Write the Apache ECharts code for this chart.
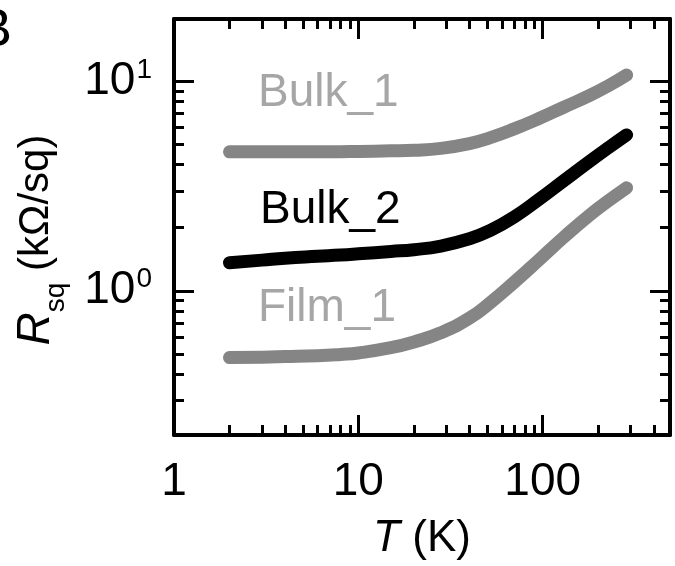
<!DOCTYPE html>
<html>
<head>
<meta charset="utf-8">
<script src="https://cdn.jsdelivr.net/npm/echarts@6/dist/echarts.min.js"></script>
<style>
  html, body { margin: 0; padding: 0; background: #ffffff; }
  #chart { width: 675px; height: 566px; }
</style>
</head>
<body>
<div id="chart"></div>
<script>
// Sheet resistance versus temperature for three samples
const temperatureK = [2, 3, 4, 6, 8, 10, 15, 20, 28, 40, 52, 70, 96, 130, 180, 230, 285];
const bulk1 = [4.6, 4.6, 4.6, 4.6, 4.61, 4.62, 4.65, 4.68, 4.78, 5.04, 5.38, 5.92, 6.65, 7.51, 8.55, 9.57, 10.7];
const bulk2 = [1.36, 1.40, 1.43, 1.46, 1.48, 1.50, 1.54, 1.57, 1.635, 1.77, 1.94, 2.25, 2.74, 3.35, 4.15, 4.85, 5.54];
const film1 = [0.48, 0.482, 0.485, 0.49, 0.497, 0.505, 0.535, 0.57, 0.63, 0.74, 0.878, 1.098, 1.41, 1.80, 2.30, 2.71, 3.10];

const seriesNames = ['Bulk_1', 'Bulk_2', 'Film_1'];

// Tick positions (log axes)
const xMajorTicks = [1, 10, 100];
const xMinorTicks = [2, 3, 4, 5, 6, 7, 8, 9, 20, 30, 40, 50, 60, 70, 80, 90, 200, 300, 400];
const yMajorTicks = [1, 10];
const yMinorTicks = [0.3, 0.4, 0.5, 0.6, 0.7, 0.8, 0.9, 2, 3, 4, 5, 6, 7, 8, 9];
const xTickLabels = ['1', '10', '100'];
const yTickExponents = ['0', '1'];

const FONT = '"Liberation Sans", Arial, sans-serif';
const GRAY_LINE = '#858585';
const GRAY_TEXT = '#a6a6a6';

const X_MIN = 1, X_MAX = 490;
const Y_MIN = 0.205, Y_MAX = 19.8;

function zip(xs, ys) { return xs.map((x, i) => [x, ys[i]]); }

function xAxisDef(position, ticks, len, main) {
  return {
    type: 'log', logBase: 10, position: position, min: X_MIN, max: X_MAX,
    axisLine: { show: main, lineStyle: { color: '#000', width: 4 } },
    axisTick: { show: true, inside: true, length: len, customValues: ticks,
                lineStyle: { color: '#000', width: 3 } },
    axisLabel: (main && position === 'bottom') ? {
      show: true, customValues: xMajorTicks, margin: 24,
      formatter: v => xTickLabels[xMajorTicks.indexOf(v)] ?? String(v),
      color: '#000', fontSize: 46, fontFamily: FONT
    } : { show: false },
    splitLine: { show: false },
    minorTick: { show: false }
  };
}

function yAxisDef(position, ticks, len, main) {
  return {
    type: 'log', logBase: 10, position: position, min: Y_MIN, max: Y_MAX,
    axisLine: { show: main, lineStyle: { color: '#000', width: 4 } },
    axisTick: { show: true, inside: true, length: len, customValues: ticks,
                lineStyle: { color: '#000', width: 3 } },
    axisLabel: (main && position === 'left') ? {
      show: true, customValues: yMajorTicks, margin: 22,
      formatter: v => '{b|10}{s|' + yTickExponents[yMajorTicks.indexOf(v)] + '}',
      rich: {
        b: { fontSize: 46, fontFamily: FONT, color: '#000' },
        s: { fontSize: 28, fontFamily: FONT, color: '#000', verticalAlign: 'top', padding: [0, 0, 22, 1] }
      }
    } : { show: false },
    splitLine: { show: false },
    minorTick: { show: false }
  };
}

const xAxes = [
  xAxisDef('bottom', xMajorTicks, 20, true),
  xAxisDef('bottom', xMinorTicks, 10, false),
  xAxisDef('top', xMajorTicks, 20, true),
  xAxisDef('top', xMinorTicks, 10, false)
];
xAxes[0].name = '{i|T} (K)';
xAxes[0].nameLocation = 'middle';
xAxes[0].nameGap = 82;
xAxes[0].nameTextStyle = {
  color: '#000', fontSize: 44, fontFamily: FONT,
  rich: { i: { fontStyle: 'italic', fontSize: 44, fontFamily: FONT, color: '#000' } }
};

const yAxes = [
  yAxisDef('left', yMajorTicks, 20, true),
  yAxisDef('left', yMinorTicks, 10, false),
  yAxisDef('right', yMajorTicks, 20, true),
  yAxisDef('right', yMinorTicks, 10, false)
];
yAxes[0].name = '{i|R}{sub|sq} (kΩ/sq)';
yAxes[0].nameLocation = 'middle';
yAxes[0].nameRotate = 90;
yAxes[0].nameGap = 104;
yAxes[0].nameTextStyle = {
  color: '#000', fontSize: 42, fontFamily: FONT, padding: [0, 26, 0, 0],
  rich: {
    i: { fontStyle: 'italic', fontSize: 46, fontFamily: FONT, color: '#000' },
    sub: { fontSize: 28, fontFamily: FONT, color: '#000', verticalAlign: 'bottom', padding: [40, 0, 0, 0] }
  }
};

function lineSeries(name, values, color) {
  return {
    name: name, type: 'line', xAxisIndex: 0, yAxisIndex: 0,
    data: zip(temperatureK, values),
    showSymbol: false, symbol: 'none', smooth: 0.5,
    lineStyle: { color: color, width: 13, cap: 'round', join: 'round' },
    z: 3
  };
}

const chart = echarts.init(document.getElementById('chart'), null, { renderer: 'canvas' });
chart.setOption({
  backgroundColor: '#ffffff',
  animation: false,
  grid: { left: 174, right: 5, top: 19, bottom: 127, containLabel: false },
  xAxis: xAxes,
  yAxis: yAxes,
  series: [
    lineSeries(seriesNames[0], bulk1, GRAY_LINE),
    lineSeries(seriesNames[1], bulk2, '#000000'),
    lineSeries(seriesNames[2], film1, GRAY_LINE)
  ],
  graphic: [
    { type: 'text', left: -24, top: 4, style: { text: 'B', fontSize: 54, fontFamily: FONT, fill: '#000' } },
    { type: 'text', left: 258, top: 70, style: { text: seriesNames[0], fontSize: 46, fontFamily: FONT, fill: GRAY_TEXT } },
    { type: 'text', left: 260, top: 187, style: { text: seriesNames[1], fontSize: 46, fontFamily: FONT, fill: '#000' } },
    { type: 'text', left: 258, top: 285, style: { text: seriesNames[2], fontSize: 46, fontFamily: FONT, fill: GRAY_TEXT } }
  ]
});
</script>
</body>
</html>
